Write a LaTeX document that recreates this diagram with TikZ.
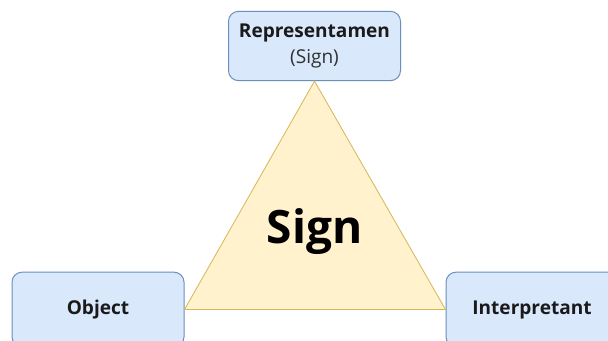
\documentclass[tikz,border=0pt]{standalone}
\usepackage{xcolor}
\usepackage{fontspec}
\setmainfont{Open Sans}
\usepackage{tikz}
\usetikzlibrary{positioning,calc}
\definecolor{BoxBlue}{HTML}{DAE8FC}
\definecolor{EdgeBlue}{HTML}{6C8EBF}
\definecolor{SoftYellow}{HTML}{FFF2CC}
\definecolor{EdgeGold}{HTML}{D6B656}
\definecolor{TextDark}{HTML}{1A1A1A}
\tikzset{
  % Base box
  FB/.style={rectangle,rounded corners=7.5pt,
             minimum width=129pt,minimum height=52pt,
             text centered,align=center,draw=EdgeBlue,fill=BoxBlue,
             line width=0.75pt,text=TextDark,
             font=\fontsize{14.3}{20}\selectfont\bfseries},
  % Bottom corner boxes
  nC/.style={FB,minimum height=56pt},
  % Triangle
  tri/.style={fill=SoftYellow,draw=EdgeGold,line width=0.6pt},
  % Big label
  LB/.style={font=\fontsize{34.5}{40}\selectfont\bfseries,text=black}
}
\begin{document}
\begin{tikzpicture}[x=0.75pt,y=-0.75pt]
  \clip (0,0) rectangle (608,341);
  \fill[white] (0,0) rectangle (608,341);
  \node[FB]  (rep)    at (314.5,46) {Representamen\\{\mdseries\color{TextDark!90}(Sign)}};
  \node[nC]  (obj)    at (98,309.5)   {Object};
  \node[nC]  (interp) at (532,309.5)  {Interpretant};
  \draw[tri] (rep.south) -- (obj.east) -- (interp.west) -- cycle;
  \node[LB]  (sign)   at (314.5,232)  {Sign};
\end{tikzpicture}
\end{document}
